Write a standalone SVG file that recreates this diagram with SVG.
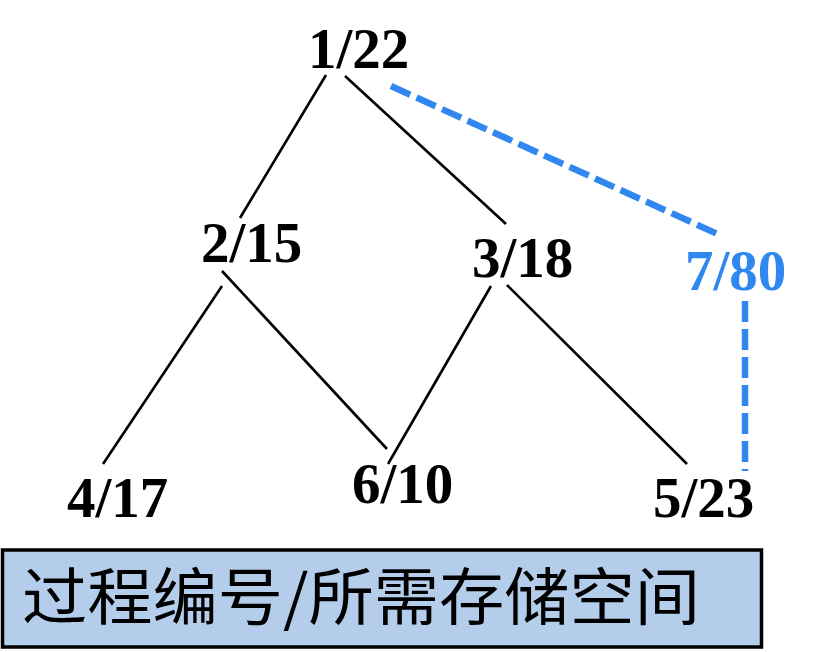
<svg xmlns="http://www.w3.org/2000/svg" width="816" height="652" viewBox="0 0 816 652">
<style>
.n{font-family:"Liberation Serif","Times New Roman",serif;font-weight:bold;font-size:57px;fill:#000}
.b{fill:#3087F0}
.e{stroke:#000;stroke-width:2.6;fill:none}
.d{stroke:#3087F0;stroke-width:6.5;fill:none;stroke-dasharray:21 7}
</style>
<rect width="816" height="652" fill="#fff"/>
<g id="connectors">
<line class="e" x1="326" y1="75" x2="240" y2="218"/>
<line class="e" x1="345" y1="76" x2="506" y2="224"/>
<line class="e" x1="222" y1="286" x2="103" y2="464"/>
<line class="e" x1="222" y1="271" x2="387" y2="449"/>
<line class="e" x1="491" y1="286" x2="388" y2="464"/>
<line class="e" x1="507" y1="285" x2="687" y2="464"/>
<line class="d" x1="391" y1="86" x2="722" y2="236"/>
<line class="d" x1="745" y1="301" x2="745" y2="471"/>
</g>
<g id="n1"><text class="n" x="308" y="68">1/22</text></g>
<g id="n2"><text class="n" x="201" y="262">2/15</text></g>
<g id="n3"><text class="n" x="472" y="277">3/18</text></g>
<g id="n7"><text class="n b" x="685" y="290">7/80</text></g>
<g id="n4"><text class="n" x="67" y="517">4/17</text></g>
<g id="n6"><text class="n" x="352" y="503">6/10</text></g>
<g id="n5"><text class="n" x="653" y="517">5/23</text></g>
<g id="legend">
<rect x="2.5" y="550" width="759" height="97" fill="#B4CDEA" stroke="#000" stroke-width="3.5"/>
<text x="22" y="620" font-family="'Noto Sans CJK SC',sans-serif" font-size="62" textLength="678" lengthAdjust="spacingAndGlyphs" fill="#000">过程编号/所需存储空间</text>
</g>
</svg>
